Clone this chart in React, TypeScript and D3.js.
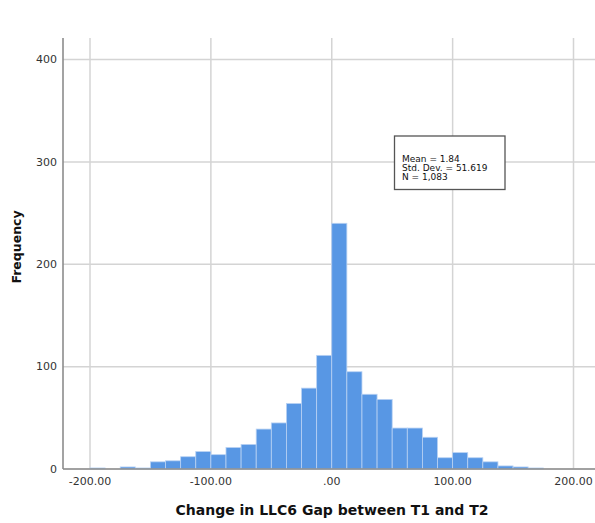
import React from "react";
import * as d3 from "d3";

const binStarts = [-200, -187.5, -175, -162.5, -150, -137.5, -125, -112.5, -100, -87.5, -75, -62.5, -50, -37.5, -25, -12.5, 0, 12.5, 25, 37.5, 50, 62.5, 75, 87.5, 100, 112.5, 125, 137.5, 150, 162.5];
const counts = [1, 0, 2, 1, 7, 8, 12, 17, 14, 21, 24, 39, 45, 64, 79, 111, 240, 95, 73, 68, 40, 40, 31, 11, 16, 11, 7, 3, 2, 1];
const binWidth = 12.5;
const xTicks = [-200, -100, 0, 100, 200];
const xTickLabels = ["-200.00", "-100.00", ".00", "100.00", "200.00"];
const yTicks = [0, 100, 200, 300, 400];
const statsLines = ["Mean = 1.84", "Std. Dev. = 51.619", "N = 1,083"];

const W = 595;
const H = 523;
const left = 63;
const top = 38;
const bottom = 469;
const right = 595;

export default function App() {
  const x = d3.scaleLinear().domain([-200, 200]).range([90, 573.5]);
  const y = d3.scaleLinear().domain([0, 400]).range([bottom, 59.5]);
  const font = "'DejaVu Sans', sans-serif";
  return (
    <svg width={W} height={H} style={{ position: "absolute", left: 0, top: 0, background: "#fff" }}>
      <rect x={0} y={0} width={W} height={H} fill="#fff" />
      {/* grid */}
      {yTicks.map((t) => (
        <line key={"gy" + t} x1={left} x2={right} y1={y(t)} y2={y(t)} stroke="#d4d4d4" strokeWidth={1.5} />
      ))}
      {xTicks.map((t) => (
        <line key={"gx" + t} x1={x(t)} x2={x(t)} y1={top} y2={bottom} stroke="#d4d4d4" strokeWidth={1.5} />
      ))}
      {/* bars */}
      {counts.map((c, i) =>
        c > 0 ? (
          <rect
            key={"b" + i}
            x={x(binStarts[i])}
            y={y(c)}
            width={x(binStarts[i] + binWidth) - x(binStarts[i])}
            height={bottom - y(c)}
            fill="#5897e4"
            stroke="#b9d2f3"
            strokeWidth={0.8}
          />
        ) : null
      )}
      {/* axes */}
      <line x1={left} x2={left} y1={top} y2={bottom} stroke="#8c8c8c" strokeWidth={1.6} />
      <line x1={left} x2={right} y1={bottom} y2={bottom} stroke="#8c8c8c" strokeWidth={1.6} />
      {yTicks.map((t) => (
        <text key={"yl" + t} x={57} y={y(t)} dy="0.35em" textAnchor="end" fontFamily={font} fontSize={11} fill="#333">
          {t}
        </text>
      ))}
      {xTicks.map((t, i) => (
        <text key={"xl" + t} x={x(t)} y={485} textAnchor="middle" fontFamily={font} fontSize={11} fill="#333">
          {xTickLabels[i]}
        </text>
      ))}
      {/* titles */}
      <text
        transform={`translate(20.5,247) rotate(-90)`}
        textAnchor="middle"
        fontFamily={font}
        fontWeight="bold"
        fontSize={12.5}
        fill="#111"
      >
        Frequency
      </text>
      <text x={332} y={515} textAnchor="middle" fontFamily={font} fontWeight="bold" fontSize={14} fill="#111">
        Change in LLC6 Gap between T1 and T2
      </text>
      {/* stats box */}
      <rect x={394.5} y={136} width={110.5} height={53.5} fill="#fff" stroke="#555" strokeWidth={1.3} />
      {statsLines.map((s, i) => (
        <text key={"s" + i} x={402} y={162 + i * 9} fontFamily={font} fontSize={9} fill="#111">
          {s}
        </text>
      ))}
    </svg>
  );
}
